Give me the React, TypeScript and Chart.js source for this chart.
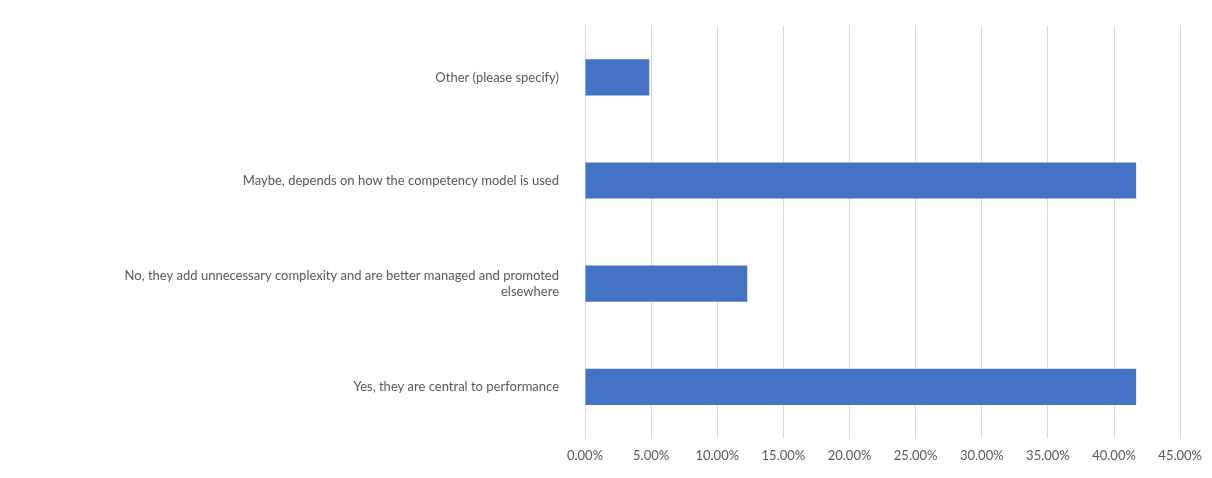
import React, { useEffect, useRef } from "react";
import { Chart, registerables } from "chart.js";
Chart.register(...registerables);

const categories: (string | string[])[] = [
  "Other (please specify)",
  "Maybe, depends on how the competency model is used",
  ["No, they add unnecessary complexity and are better managed and promoted", "elsewhere"],
  "Yes, they are central to performance",
];
const values = [4.86, 41.67, 12.27, 41.67];
const tickMax = 45;
const tickStep = 5;

export default function App() {
  const ref = useRef<HTMLCanvasElement>(null);
  useEffect(() => {
    document.body.style.margin = "0";
    const chart = new Chart(ref.current!, {
      type: "bar",
      data: {
        labels: categories,
        datasets: [{ data: values, backgroundColor: "#4472C4", barPercentage: 0.35, categoryPercentage: 1 }],
      },
      options: {
        indexAxis: "y",
        animation: false,
        responsive: false,
        layout: { padding: { top: 18, right: 20, bottom: 4, left: 0 } },
        plugins: { legend: { display: false }, tooltip: { enabled: false } },
        scales: {
          x: {
            min: 0,
            max: tickMax,
            ticks: {
              stepSize: tickStep,
              color: "#595959",
              font: { family: "Lato", size: 13 },
              callback: (v: any) => Number(v).toFixed(2) + "%",
              padding: 10,
            },
            grid: { color: "#d9d9d9", drawTicks: false },
            border: { display: false },
          },
          y: {
            ticks: { color: "#595959", font: { family: "Lato", size: 13 }, padding: 18 },
            grid: { display: false },
            border: { display: false },
            afterFit: (s: any) => { s.width = 585; },
          },
        },
      },
    });
    return () => chart.destroy();
  }, []);
  return <canvas ref={ref} width={1212} height={478} style={{ display: "block" }} />;
}
